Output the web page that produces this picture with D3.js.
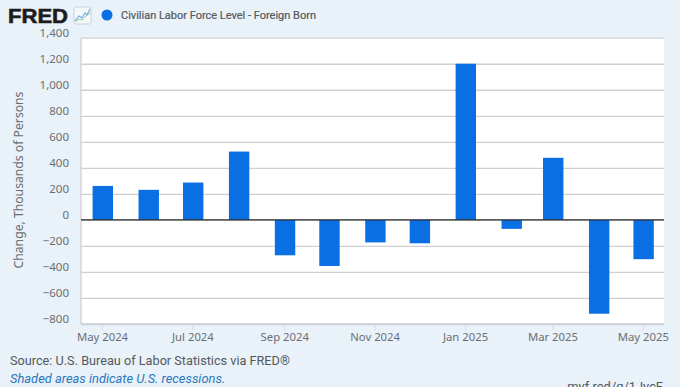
<!DOCTYPE html>
<html>
<head>
<meta charset="utf-8">
<script src="https://cdn.jsdelivr.net/npm/d3@7"></script>
<style>
    html, body { margin: 0; padding: 0; background: #e9f1f9; overflow: hidden; }
    text { font-family: "Noto Sans", sans-serif; }
</style>
</head>
<body>
<div id="chart"></div>
<script>
// Values
const months = ["May 2024", "Jun 2024", "Jul 2024", "Aug 2024", "Sep 2024", "Oct 2024", "Nov 2024",
    "Dec 2024", "Jan 2025", "Feb 2025", "Mar 2025", "Apr 2025", "May 2025"];
const changes = [261, 231, 287, 525, -272, -354, -173, -180, 1200, -69, 477, -721, -302];
const xLabels = ["May 2024", "Jul 2024", "Sep 2024", "Nov 2024", "Jan 2025", "Mar 2025", "May 2025"];
const yTicks = [1400, 1200, 1000, 800, 600, 400, 200, 0, -200, -400, -600, -800];

const width = 680;
const height = 387;
const margin = { top: 37.7, right: 16, bottom: 63, left: 81 };
const barWidth = 20.4;
const gridColor = "#cfd0d1";

const parseMonth = d3.utcParse("%b %Y");

const svg = d3.select("#chart").append("svg")
    .attr("width", width)
    .attr("height", height)
    .style("display", "block");

// Months sit on a real time axis, so the spacing follows the days in each month
const x = d3.scaleUtc()
    .domain([parseMonth(months[0]), parseMonth(months[months.length - 1])])
    .range([102.8, 643.6]);

const y = d3.scaleLinear()
    .domain([-800, 1400])
    .range([height - margin.bottom, margin.top]);

// Plot background
svg.append("rect")
    .attr("x", margin.left)
    .attr("y", margin.top)
    .attr("width", width - margin.left - margin.right)
    .attr("height", height - margin.top - margin.bottom)
    .attr("fill", "#fff");

// Y axis with gridlines
svg.append("g")
    .attr("transform", `translate(${margin.left},0)`)
    .call(d3.axisLeft(y)
        .tickValues(yTicks)
        .tickFormat(d3.format(","))
        .tickSize(-(width - margin.left - margin.right))
        .tickPadding(12))
    .call(g => g.select(".domain").remove())
    .call(g => g.selectAll("line").attr("stroke", gridColor).attr("stroke-width", 1.3))
    .call(g => g.selectAll("text")
        .attr("fill", "#6b6f73")
        .attr("dy", "-0.1em")
        .style("font-size", "11.5px"));

// Left edge of the plot
svg.append("line")
    .attr("x1", margin.left).attr("x2", margin.left)
    .attr("y1", margin.top).attr("y2", height - margin.bottom)
    .attr("stroke", gridColor)
    .attr("stroke-width", 1.3);

// X axis
svg.append("g")
    .attr("transform", `translate(-0.8,${height - margin.bottom})`)
    .call(d3.axisBottom(x)
        .tickValues(xLabels.map(parseMonth))
        .tickFormat(d3.utcFormat("%b %Y"))
        .tickSize(6)
        .tickPadding(3))
    .call(g => g.select(".domain").remove())
    .call(g => g.selectAll("line").attr("stroke", "#d4dce5"))
    .call(g => g.selectAll("text")
        .attr("fill", "#6b6f73")
        .style("font-size", "11.3px"));

// Bottom edge of the plot
svg.append("line")
    .attr("x1", margin.left).attr("x2", width - margin.right)
    .attr("y1", height - margin.bottom).attr("y2", height - margin.bottom)
    .attr("stroke", "#c9d2dc")
    .attr("stroke-width", 1.3);

// Bars
svg.append("g")
    .selectAll("rect")
    .data(changes)
    .join("rect")
    .attr("x", (d, i) => x(parseMonth(months[i])) - barWidth / 2)
    .attr("y", d => y(Math.max(0, d)))
    .attr("width", barWidth)
    .attr("height", d => Math.abs(y(d) - y(0)))
    .attr("fill", "#0a6fe3");

// Zero line
svg.append("line")
    .attr("x1", margin.left).attr("x2", width - margin.right)
    .attr("y1", y(0)).attr("y2", y(0))
    .attr("stroke", "#2b2b2b")
    .attr("stroke-width", 1.2);

// Y axis title
svg.append("text")
    .attr("transform", `translate(23,180) rotate(-90)`)
    .attr("text-anchor", "middle")
    .attr("fill", "#6b6f73")
    .style("font-size", "12.2px")
    .text("Change, Thousands of Persons");

// Logo
svg.append("text")
    .attr("x", 8).attr("y", 23)
    .attr("fill", "#1d1d1d")
    .attr("stroke", "#1d1d1d")
    .attr("stroke-width", 0.6)
    .style("font-family", "Liberation Sans")
    .style("font-size", "21px")
    .style("font-weight", "bold")
    .attr("textLength", 60)
    .attr("lengthAdjust", "spacingAndGlyphs")
    .text("FRED");

// Logo icon
const icon = svg.append("g").attr("transform", "translate(74,7)");
icon.append("rect")
    .attr("width", 17).attr("height", 17).attr("rx", 1.5)
    .attr("fill", "#f4f8fb").attr("stroke", "#c9d2dc");
icon.append("path")
    .attr("d", "M1 14L5 9L8 11L11 6L13 8L16 2")
    .attr("fill", "none").attr("stroke", "#6fb1d8").attr("stroke-width", 1.2);
icon.append("path")
    .attr("d", "M1 15L5 12L8 13L12 9L16 6")
    .attr("fill", "none").attr("stroke", "#9cc7a8").attr("stroke-width", 1);

// Legend
svg.append("circle")
    .attr("cx", 107).attr("cy", 15).attr("r", 5.5)
    .attr("fill", "#0a6fe3");
svg.append("text")
    .attr("x", 121).attr("y", 19)
    .attr("fill", "#55595d")
    .style("font-family", "Roboto")
    .style("font-size", "11px")
    .attr("textLength", 195)
    .attr("lengthAdjust", "spacingAndGlyphs")
    .attr("stroke", "#55595d")
    .attr("stroke-width", 0.2)
    .text("Civilian Labor Force Level - Foreign Born");

// Footer
svg.append("text")
    .attr("x", 10).attr("y", 365)
    .attr("fill", "#55595d")
    .style("font-family", "Roboto")
    .style("font-size", "12.7px")
    .text("Source: U.S. Bureau of Labor Statistics via FRED®");
svg.append("text")
    .attr("x", 10).attr("y", 383)
    .attr("fill", "#2a78bd")
    .style("font-family", "Roboto")
    .style("font-size", "12.9px")
    .style("font-style", "italic")
    .text("Shaded areas indicate U.S. recessions.");
svg.append("text")
    .attr("x", 663).attr("y", 391)
    .attr("text-anchor", "end")
    .attr("fill", "#55595d")
    .style("font-family", "Roboto")
    .style("font-size", "12.9px")
    .text("myf.red/g/1JycF");
</script>
</body>
</html>
